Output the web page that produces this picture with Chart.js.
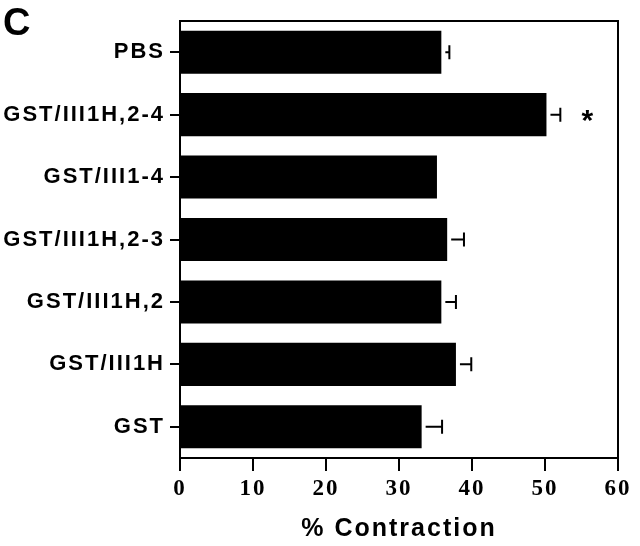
<!DOCTYPE html>
<html>
<head>
<meta charset="utf-8">
<script src="https://cdn.jsdelivr.net/npm/chart.js@4"></script>
<style>
  body { margin: 0; background: #fff; }
  #wrap { width: 640px; height: 546px; }
</style>
</head>
<body>
<div id="wrap"><canvas id="myChart" width="640" height="546"></canvas></div>
<script>
const categories = ['PBS', 'GST/III1H,2-4', 'GST/III1-4', 'GST/III1H,2-3',
    'GST/III1H,2', 'GST/III1H', 'GST'];
const contraction = [35.8, 50.2, 35.2, 36.6, 35.8, 37.8, 33.1];
const sem = [1.1, 1.9, 0, 2.3, 2.0, 2.1, 2.8];
const marks = ['', '*', '', '', '', '', ''];
const xTicks = [0, 10, 20, 30, 40, 50, 60];

// canvas text looks spread out in the original
const spacing = {
    id: 'spacing',
    beforeUpdate(chart) { chart.ctx.letterSpacing = '2px'; },
    beforeDraw(chart) { chart.ctx.letterSpacing = '2px'; }
};

const extras = {
    id: 'extras',
    afterDatasetsDraw(chart) {
        const ctx = chart.ctx;
        const x = chart.scales.x;
        const area = chart.chartArea;
        const bars = chart.getDatasetMeta(0).data;
        ctx.save();
        ctx.strokeStyle = '#000';
        ctx.fillStyle = '#000';
        ctx.lineWidth = 2;
        ctx.strokeRect(area.left, area.top, area.right - area.left, area.bottom - area.top);

        // one-sided error bars
        ctx.lineWidth = 2;
        bars.forEach((bar, i) => {
            if (!sem[i]) return;
            const x0 = x.getPixelForValue(contraction[i]) + 4;
            const x1 = x.getPixelForValue(contraction[i] + sem[i]);
            ctx.beginPath();
            ctx.moveTo(x0, bar.y);
            ctx.lineTo(x1, bar.y);
            ctx.moveTo(x1, bar.y - 7);
            ctx.lineTo(x1, bar.y + 7);
            ctx.stroke();
        });

        ctx.letterSpacing = '0px';
        ctx.font = 'bold 30px "Liberation Sans", Arial, sans-serif';
        ctx.textAlign = 'center';
        ctx.textBaseline = 'alphabetic';
        bars.forEach((bar, i) => {
            if (!marks[i]) return;
            const px = x.getPixelForValue(contraction[i] + sem[i]) + 27;
            ctx.fillText(marks[i], px, bar.y + 15);
        });

        ctx.textAlign = 'left';
        ctx.font = 'bold 38px "Liberation Sans", Arial, sans-serif';
        ctx.fillText('C', 3, 35);
        ctx.restore();
    }
};

const ctx = document.getElementById('myChart');

new Chart(ctx, {
    type: 'bar',
    data: {
        labels: categories,
        datasets: [{
            data: contraction,
            backgroundColor: '#000',
            borderWidth: 0,
            barPercentage: 0.69,
            categoryPercentage: 1
        }]
    },
    options: {
        indexAxis: 'y',
        responsive: false,
        animation: false,
        layout: { padding: { top: 21, right: 22, left: 0, bottom: 0 } },
        plugins: {
            legend: { display: false },
            tooltip: { enabled: false }
        },
        scales: {
            x: {
                min: 0,
                max: 60,
                afterBuildTicks(scale) {
                    scale.ticks = xTicks.map(v => ({ value: v }));
                },
                afterFit(scale) { scale.height = 88; },
                border: { color: '#000', width: 2 },
                grid: {
                    drawOnChartArea: false,
                    drawTicks: true,
                    tickLength: 13,
                    color: '#000',
                    lineWidth: 2
                },
                ticks: {
                    color: '#000',
                    padding: 4,
                    maxRotation: 0,
                    font: { family: '"Liberation Serif", "Times New Roman", serif', size: 23, weight: 'bold' }
                },
                title: {
                    display: true,
                    text: '% Contraction',
                    color: '#000',
                    padding: { top: 0, bottom: 2 },
                    font: { family: '"Liberation Sans", Arial, sans-serif', size: 25, weight: 'bold' }
                }
            },
            y: {
                afterFit(scale) { scale.width = 180; },
                border: { color: '#000', width: 2 },
                grid: {
                    drawOnChartArea: false,
                    drawTicks: true,
                    offset: false,
                    tickLength: 10,
                    color: '#000',
                    lineWidth: 2
                },
                ticks: {
                    color: '#000',
                    padding: 5,
                    font: { family: '"Liberation Sans", Arial, sans-serif', size: 22, weight: 'bold' }
                }
            }
        }
    },
    plugins: [spacing, extras]
});
</script>
</body>
</html>
